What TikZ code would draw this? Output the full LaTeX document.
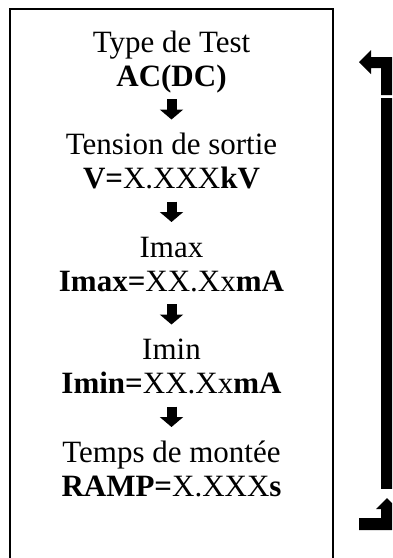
\documentclass[tikz,border=0pt]{standalone}
\usepackage{fontspec}
\setmainfont{Liberation Serif}
\usetikzlibrary{arrows.meta}
\begin{document}
\begin{tikzpicture}[x=1pt,y=-1pt,
  txt/.style={font=\fontsize{31}{31}\selectfont, anchor=base, inner sep=0pt},
  downarrow/.style={line width=10pt, -{Triangle[width=23pt,length=10pt]}},
  boxline/.style={line width=1.5pt}]
\useasboundingbox (0,0) rectangle (392,558);
\begin{scope}
\clip (0,0) rectangle (392,558);
% open frame around the settings list
\draw[boxline] (10,570) -- (10,9) -- (333,9) -- (333,570);

% settings: title and value pairs
\node[txt] (t1) at (171.5,52)    {Type de Test};
\node[txt] (v1) at (171.5,86)    {\textbf{AC(DC)}};
\node[txt] (t2) at (171.5,154.5) {Tension de sortie};
\node[txt] (v2) at (171.5,188.5) {\textbf{V=}X.XXX\textbf{kV}};
\node[txt] (t3) at (171.5,257)   {Imax};
\node[txt] (v3) at (171.5,291)   {\textbf{Imax=}XX.Xx\textbf{mA}};
\node[txt] (t4) at (171.5,359.5) {Imin};
\node[txt] (v4) at (171.5,393.5) {\textbf{Imin=}XX.Xx\textbf{mA}};
\node[txt] (t5) at (171.5,462)   {Temps de montée};
\node[txt] (v5) at (171.5,496)   {\textbf{RAMP=}X.XXX\textbf{s}};

% block arrows between the settings
\foreach \a/\b in {v1/t2, v2/t3, v3/t4, v4/t5}
  \draw[downarrow] ([yshift=-13pt]\a.base) -- ([yshift=35pt]\b.base);

% side return path: bent arrow at the top, long bar, bent arrow at the bottom
\fill (359,62) -- (371,50) -- (371,57) -- (393,57) -- (393,95) -- (381,95)
      -- (381,68) -- (371,68) -- (371,74) -- cycle;
\fill (381,98) rectangle (393,489);
\fill (387,498) -- (398,509) -- (393,509) -- (393,530) -- (359,530)
      -- (359,518) -- (381,518) -- (381,509) -- (376,509) -- cycle;
\end{scope}
\end{tikzpicture}
\end{document}
